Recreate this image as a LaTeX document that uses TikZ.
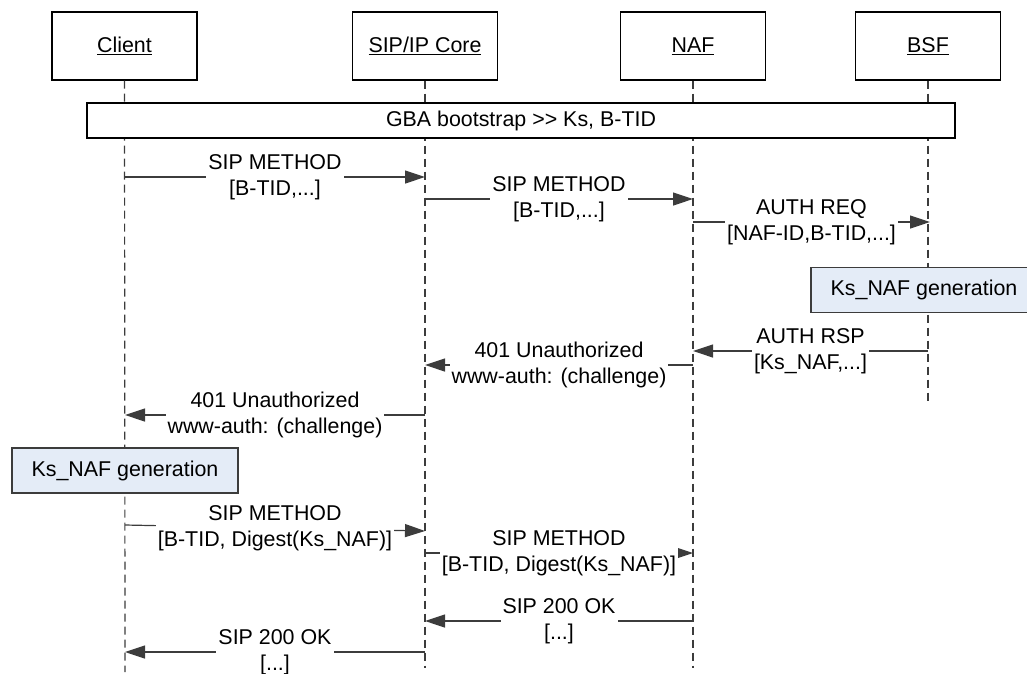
\documentclass[tikz,border=0pt]{standalone}
\usepackage{fontspec}
\setmainfont{Liberation Sans}
\usetikzlibrary{arrows.meta}
\definecolor{linegray}{RGB}{60,60,60}
\definecolor{genblue}{RGB}{228,236,247}
\begin{document}
\begin{tikzpicture}[x=1pt,y=-1pt,
  every node/.style={font={\fontsize{21.4}{26}\selectfont}},
  actor/.style={draw=black, line width=1.2pt, fill=white, minimum width=145pt, minimum height=68pt, inner sep=0pt},
  life/.style={draw=linegray, line width=1.2pt, dash pattern=on 8pt off 5pt},
  msg/.style={draw=linegray, line width=1.2pt, -{Triangle[length=20pt,width=13pt]}},
  lbl/.style={fill=white, align=center, inner sep=2pt},
  genbox/.style={draw=linegray, line width=1.2pt, fill=genblue, minimum width=226pt, minimum height=45pt, inner sep=0pt},
  gbabox/.style={draw=black, line width=1.2pt, fill=white, minimum width=868pt, minimum height=35pt, inner sep=0pt}]
\useasboundingbox (0,0) rectangle (1027,673);

% actors
\node[actor] (client) at (124.5,46) {\underline{Client}};
\node[actor] (core) at (425,46) {\underline{SIP/IP Core}};
\node[actor] (naf) at (693,46) {\underline{NAF}};
\node[actor] (bsf) at (928,46) {\underline{BSF}};

% lifelines
\coordinate (clientEnd) at (125,672);
\coordinate (coreEnd) at (425,668);
\coordinate (nafEnd) at (693,668);
\coordinate (bsfEnd) at (928,403);
\draw[life] (client.south) -- (clientEnd);
\draw[life] (core.south) -- (coreEnd);
\draw[life] (naf.south) -- (nafEnd);
\draw[life] (bsf.south) -- (bsfEnd);

% GBA bootstrap
\node[gbabox] (gba) at (521,120.5) {GBA bootstrap >{}> Ks, B-TID};

% message 1
\coordinate (m1a) at (125,177); \coordinate (m1b) at (425,177);
\draw[msg] (m1a) -- node[lbl] {SIP METHOD\\{}[B-TID,...]} (m1b);
% message 2
\coordinate (m2a) at (425,199); \coordinate (m2b) at (693,199);
\draw[msg] (m2a) -- node[lbl] {SIP METHOD\\{}[B-TID,...]} (m2b);
% message 3
\coordinate (m3a) at (693,222); \coordinate (m3b) at (930,222);
\draw[msg] (m3a) -- node[lbl] {AUTH REQ\\{}[NAF-ID,B-TID,...]} (m3b);

% Ks_NAF generation at BSF
\node[genbox] (genbsf) at (924,290) {Ks\_NAF generation};

% message 4
\coordinate (m4a) at (928,351); \coordinate (m4b) at (693,351);
\draw[msg] (m4a) -- node[lbl] {AUTH RSP\\{}[Ks\_NAF,...]} (m4b);
% message 5
\coordinate (m5a) at (693,365); \coordinate (m5b) at (425,365);
\draw[msg] (m5a) -- node[lbl] {401 Unauthorized\\www-auth: (challenge)} (m5b);
% message 6
\coordinate (m6a) at (425,415); \coordinate (m6b) at (125,415);
\draw[msg] (m6a) -- node[lbl] {401 Unauthorized\\www-auth: (challenge)} (m6b);

% Ks_NAF generation at client
\node[genbox] (genclient) at (125,470.5) {Ks\_NAF generation};

% message 7
\coordinate (m7a) at (125,525); \coordinate (m7b) at (425,531);
\draw[msg] (m7a) -- node[lbl] {SIP METHOD\\{}[B-TID, Digest(Ks\_NAF)]} (m7b);
% message 8
\coordinate (m8a) at (425,553); \coordinate (m8b) at (693,553);
\draw[msg] (m8a) -- node[lbl] {SIP METHOD\\{}[B-TID, Digest(Ks\_NAF)]} (m8b);
% message 9
\coordinate (m9a) at (693,621); \coordinate (m9b) at (425,621);
\draw[msg] (m9a) -- node[lbl] {SIP 200 OK\\{}[...]} (m9b);
% message 10
\coordinate (m10a) at (425,652); \coordinate (m10b) at (125,652);
\draw[msg] (m10a) -- node[lbl] {SIP 200 OK\\{}[...]} (m10b);
\end{tikzpicture}
\end{document}
